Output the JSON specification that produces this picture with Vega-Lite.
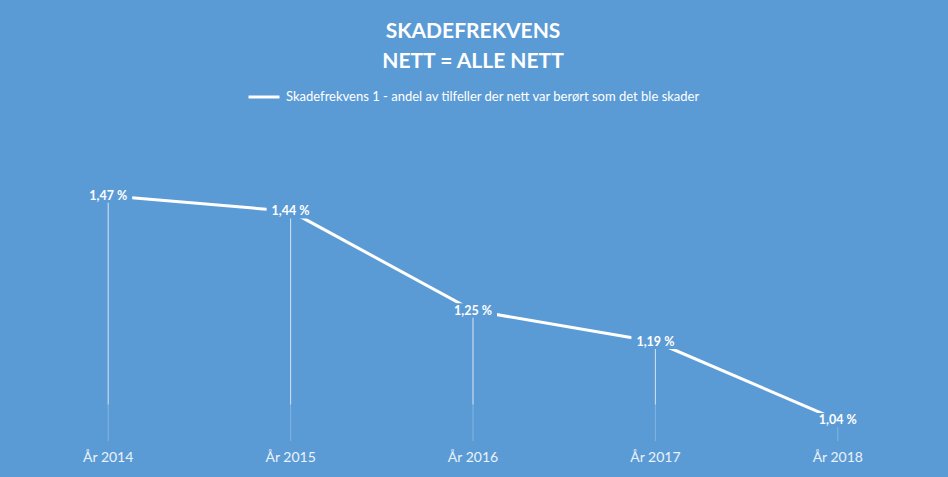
{
  "$schema": "https://vega.github.io/schema/vega-lite/v6.json",
  "width": 912,
  "height": 261,
  "autosize": "none",
  "padding": {"left": 17, "top": 180, "right": 19, "bottom": 36},
  "background": "#5B9BD5",
  "config": {"view": {"stroke": null}, "font": "Lato"},
  "title": {
    "text": ["SKADEFREKVENS", "NETT = ALLE NETT"],
    "anchor": "middle",
    "color": "white",
    "font": "Lato",
    "fontSize": 21,
    "fontWeight": "bold",
    "lineHeight": 30,
    "offset": 8
  },
  "data": {
    "values": [
      {"year": "År 2014", "value": 1.47, "label": "1,47 %", "serie": "Skadefrekvens 1 - andel av tilfeller der nett var berørt som det ble skader"},
      {"year": "År 2015", "value": 1.44, "label": "1,44 %", "serie": "Skadefrekvens 1 - andel av tilfeller der nett var berørt som det ble skader"},
      {"year": "År 2016", "value": 1.25, "label": "1,25 %", "serie": "Skadefrekvens 1 - andel av tilfeller der nett var berørt som det ble skader"},
      {"year": "År 2017", "value": 1.19, "label": "1,19 %", "serie": "Skadefrekvens 1 - andel av tilfeller der nett var berørt som det ble skader"},
      {"year": "År 2018", "value": 1.04, "label": "1,04 %", "serie": "Skadefrekvens 1 - andel av tilfeller der nett var berørt som det ble skader"}
    ]
  },
  "encoding": {
    "x": {
      "field": "year",
      "type": "nominal",
      "sort": null,
      "scale": {"type": "band", "paddingInner": 0, "paddingOuter": 0},
      "axis": {
        "title": null,
        "labelAngle": 0,
        "ticks": false,
        "domain": false,
        "grid": false,
        "labelColor": "#EAF2FA",
        "labelFont": "Lato",
        "labelFontSize": 14,
        "labelPadding": 9
      }
    },
    "y": {
      "field": "value",
      "type": "quantitative",
      "scale": {"domain": [1.0, 1.5], "zero": false, "nice": false},
      "axis": null
    }
  },
  "layer": [
    {
      "mark": {"type": "rule", "color": "white", "strokeWidth": 1, "opacity": 0.25},
      "encoding": {"y2": {"datum": 1.0}}
    },
    {
      "transform": [{"filter": "datum.value > 1.1"}],
      "mark": {"type": "rule", "color": "white", "strokeWidth": 1, "opacity": 0.6},
      "encoding": {"y2": {"datum": 1.07}}
    },
    {
      "mark": {"type": "line", "strokeWidth": 3},
      "encoding": {
        "color": {
          "field": "serie",
          "type": "nominal",
          "scale": {"range": ["white"]},
          "legend": {
            "title": null,
            "orient": "none",
            "legendX": 230,
            "legendY": -100,
            "symbolType": "stroke",
            "symbolSize": 961,
            "symbolStrokeWidth": 3,
            "labelColor": "white",
            "labelFont": "Lato",
            "labelFontSize": 13,
            "labelLimit": 0,
            "labelOffset": 5
          }
        }
      }
    },
    {
      "mark": {
        "type": "point",
        "shape": "M-1,-0.3H1V0.3H-1Z",
        "filled": true,
        "fill": "#5B9BD5",
        "opacity": 1,
        "strokeWidth": 0,
        "size": 2304
      }
    },
    {
      "mark": {
        "type": "text",
        "color": "white",
        "font": "Lato",
        "fontSize": 12.5,
        "fontWeight": "bold",
        "align": "center",
        "baseline": "middle"
      },
      "encoding": {"text": {"field": "label"}}
    }
  ]
}
